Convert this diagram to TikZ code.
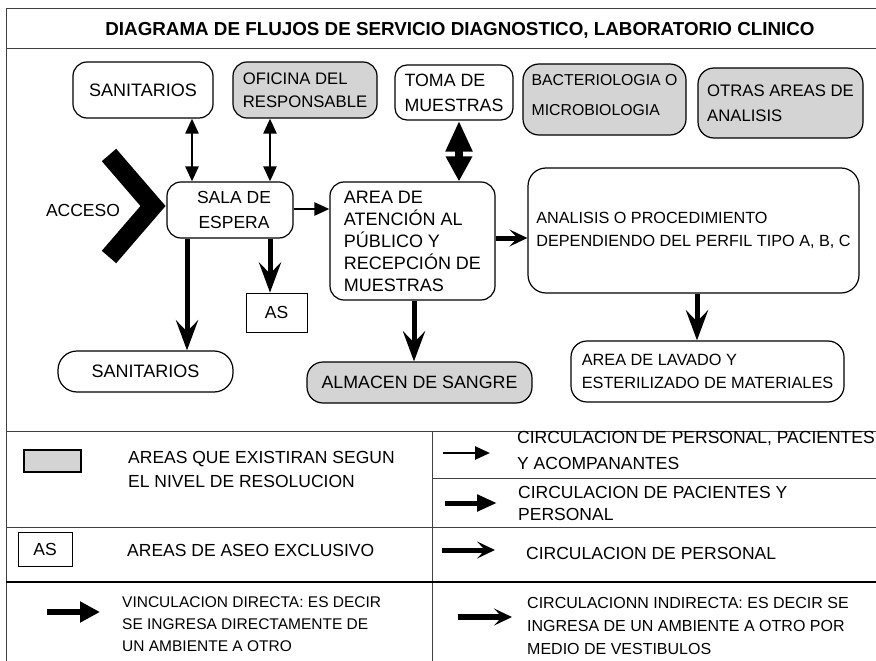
\documentclass[tikz,border=0pt]{standalone}
\usepackage{fontspec}
\setmainfont{Liberation Sans}
\usetikzlibrary{arrows.meta,positioning,calc}

\definecolor{grisArea}{RGB}{212,212,212}
\newcommand{\letra}[2]{\fontsize{#1}{#2}\selectfont}

\tikzset{
  caja/.style={draw, rounded corners=14pt, line width=1.2pt, inner sep=0pt, align=left},
  gris/.style={caja, fill=grisArea},
  marco/.style={line width=1pt, draw=black!75},
  fina/.style={line width=2.5pt, -{Triangle[length=15pt,width=13pt]}},
  finaDoble/.style={line width=2.5pt, {Triangle[length=15pt,width=13pt]}-{Triangle[length=15pt,width=13pt]}},
  toma/.style={line width=8pt, {Triangle[length=31pt,width=25pt]}-{Triangle[length=25pt,width=25pt]}},
  pacientes/.style={line width=5pt, -{Triangle[length=20pt,width=16pt]}},
  personal/.style={line width=5pt, -{Stealth[length=18pt,width=17pt,inset=8pt]}},
  bajada/.style={line width=5pt, -{Stealth[length=30pt,width=22pt,inset=11pt]}},
  directa/.style={line width=6pt, -{Triangle[length=20pt,width=20pt]}},
  leyenda/.style={anchor=west, inner sep=0pt, align=left}
}

\begin{document}
\begin{tikzpicture}[x=1pt,y=-1pt]
\useasboundingbox (0,0) rectangle (876,661);

% marco y divisiones
\draw[marco] (876,9) -- (6,9) -- (6,661);
\draw[marco] (6,49) -- (876,49);
\draw[marco] (6,431) -- (876,431);
\draw[marco] (432,431) -- (432,661);
\draw[marco] (432,478) -- (876,478);
\draw[marco] (6,527) -- (876,527);
\draw[line width=2pt] (6,582) -- (876,582);

\node[font=\bfseries\letra{18.8}{22}] (titulo) at (460,30) {DIAGRAMA DE FLUJOS DE SERVICIO DIAGNOSTICO, LABORATORIO CLINICO};

% ambientes
\node[caja, minimum width=140pt, minimum height=56pt, font=\letra{18}{22}] (san1) at (143,90) {SANITARIOS};
\node[gris, minimum width=144pt, minimum height=56pt, font=\letra{16.7}{23}] (ofi) at (305,90) {OFICINA DEL\\RESPONSABLE};
\node[caja, rounded corners=12pt, minimum width=118pt, minimum height=55pt, font=\letra{17.8}{25}] (toma) at (454,92.5) {TOMA DE\\MUESTRAS};
\node[gris, rounded corners=16pt, minimum width=163pt, minimum height=71pt, font=\letra{15.8}{30}] (bact) at (604.5,99.5) {BACTERIOLOGIA O\\MICROBIOLOGIA\vspace*{8pt}};
\node[gris, rounded corners=16pt, minimum width=165pt, minimum height=70pt, font=\letra{16.7}{25}] (otras) at (780.5,103) {OTRAS AREAS DE\\ANALISIS};

\node[font=\letra{17.5}{22}] (acceso) at (83,210) {ACCESO};
\draw[line width=19pt] (109,155) -- (153,206) -- (109,257);

\node[caja, align=center, minimum width=126pt, minimum height=56pt, font=\letra{17.5}{25}] (sala) at (230,210) {\hspace*{8pt}SALA DE\\\hspace*{8pt}ESPERA};
\node[caja, minimum width=165pt, minimum height=118pt, font=\letra{18}{22}] (area) at (412.5,241) {AREA DE\\ATENCIÓN AL\\PÚBLICO Y\\RECEPCIÓN DE\\MUESTRAS};
\node[caja, rounded corners=18pt, minimum width=331pt, minimum height=125pt, font=\letra{16.2}{23}] (anal) at (693.5,230.5) {ANALISIS O PROCEDIMIENTO\\DEPENDIENDO DEL PERFIL TIPO A, B, C};

\node[draw, line width=0.8pt, minimum width=61pt, minimum height=39pt, font=\letra{17.5}{20}] (as1) at (276.5,312.5) {AS};
\node[caja, rounded corners=19pt, minimum width=175pt, minimum height=41pt, font=\letra{18}{22}] (san2) at (145.5,371.5) {SANITARIOS};
\node[gris, rounded corners=16pt, minimum width=225pt, minimum height=41pt, font=\letra{17.8}{22}] (alma) at (419.5,382.5) {ALMACEN DE SANGRE};
\node[caja, rounded corners=16pt, minimum width=273pt, minimum height=61pt, font=\letra{16.3}{23}] (lava) at (707.5,371.5) {AREA DE LAVADO Y\\ESTERILIZADO DE MATERIALES};

% circulaciones
\draw[finaDoble] ([xshift=49pt]san1.south) -- ([xshift=-38pt]sala.north);
\draw[finaDoble] ([xshift=-35pt]ofi.south) -- ([xshift=40pt]sala.north);
\draw[toma] ([xshift=5pt]toma.south) -- ([xshift=46.5pt]area.north);
\draw[fina] ([yshift=1pt]sala.east) -- ([yshift=1pt]sala.east -| area.west);
\draw[personal] ([yshift=3pt]area.east) -- ([yshift=3pt]area.east -| anal.west);
\draw[bajada] ([xshift=-43pt]sala.south) -- ([xshift=41.5pt]san2.north);
\draw[bajada] ([xshift=40pt]sala.south) -- ([xshift=-6.5pt]as1.north);
\draw[bajada] ([xshift=1.5pt]area.south) -- ([xshift=1.5pt]area.south |- alma.north);
\draw[bajada] ([xshift=3.5pt]anal.south) -- ([xshift=3.5pt]anal.south |- lava.north);

% leyenda izquierda
\node[draw, line width=2.5pt, fill=grisArea, minimum width=57pt, minimum height=22pt] (leyGris) at (52.5,461) {};
\node[leyenda, font=\letra{17.5}{24}] (txtGris) at (128,469) {AREAS QUE EXISTIRAN SEGUN\\EL NIVEL DE RESOLUCION};
\node[draw, line width=0.8pt, minimum width=54pt, minimum height=34pt, font=\letra{17.5}{20}] (leyAS) at (45,549) {AS};
\node[leyenda, font=\letra{17.5}{22}] (txtAS) at (127,550) {AREAS DE ASEO EXCLUSIVO};
\coordinate (dirA) at (47,612);
\coordinate (dirB) at (100,612);
\draw[directa] (dirA) -- (dirB);
\node[leyenda, font=\letra{15.5}{22}] (txtDir) at (122,624) {VINCULACION DIRECTA: ES DECIR\\SE INGRESA DIRECTAMENTE DE\\UN AMBIENTE A OTRO};

% leyenda derecha
\coordinate (finA) at (443,453);
\coordinate (finB) at (490,453);
\draw[fina] (finA) -- (finB);
\node[leyenda, font=\letra{17.5}{26}] (txtFin) at (517,450) {CIRCULACION DE PERSONAL, PACIENTES\\Y ACOMPANANTES};
\coordinate (pacA) at (445,503);
\coordinate (pacB) at (497,503);
\draw[pacientes] (pacA) -- (pacB);
\node[leyenda, font=\letra{17.5}{22}] (txtPac) at (518,503) {CIRCULACION DE PACIENTES Y\\PERSONAL};
\coordinate (perA) at (442,550);
\coordinate (perB) at (495,550);
\draw[personal] (perA) -- (perB);
\node[leyenda, font=\letra{17.5}{22}] (txtPer) at (526,553) {CIRCULACION DE PERSONAL};
\coordinate (indA) at (458,617);
\coordinate (indB) at (512,617);
\draw[personal, line width=6pt] (indA) -- (indB);
\node[leyenda, font=\letra{16}{23}] (txtInd) at (527,626) {CIRCULACIONN INDIRECTA: ES DECIR SE\\INGRESA DE UN AMBIENTE A OTRO POR\\MEDIO DE VESTIBULOS};

\end{tikzpicture}
\end{document}
